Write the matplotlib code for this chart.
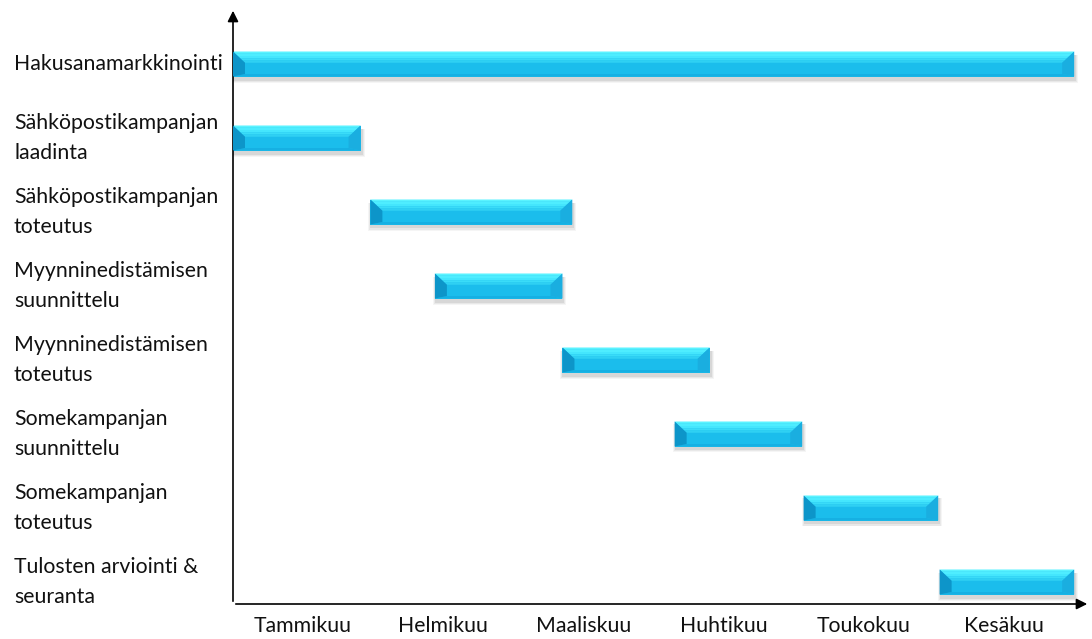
import numpy as np
import matplotlib
matplotlib.use("Agg")
import matplotlib.pyplot as plt
from matplotlib.patches import Polygon, Rectangle
from matplotlib.transforms import blended_transform_factory

# Data
tasks = [
    "Hakusanamarkkinointi",
    "Sähköpostikampanjan\nlaadinta",
    "Sähköpostikampanjan\ntoteutus",
    "Myynninedistämisen\nsuunnittelu",
    "Myynninedistämisen\ntoteutus",
    "Somekampanjan\nsuunnittelu",
    "Somekampanjan\ntoteutus",
    "Tulosten arviointi &\nseuranta",
]
start = [0.0, 0.0, 0.98, 1.44, 2.35, 3.15, 4.07, 5.04]   # months from start of January
end = [6.0, 0.91, 2.42, 2.35, 3.40, 4.06, 5.03, 6.0]
months = ["Tammikuu", "Helmikuu", "Maaliskuu", "Huhtikuu", "Toukokuu", "Kesäkuu"]

# Layout (pixels of a 1092x639 figure)
W, H = 1092, 639
ax_l, ax_r, ax_b, ax_t = 233, 1090, 604, 8
px_per_month = 140.2
row_step = 74.0
first_row_px = 64
bar_h_px = 25
bevel_px = 12

plt.rcParams['font.family'] = ['Lato', 'DejaVu Sans']

fig = plt.figure(figsize=(W / 100, H / 100), dpi=100)
ax = fig.add_axes([ax_l / W, 1 - ax_b / H, (ax_r - ax_l) / W, (ax_b - ax_t) / H])

ax.set_xlim(0, (ax_r - ax_l) / px_per_month)
ax.set_ylim((ax_b - first_row_px) / row_step, -(first_row_px - ax_t) / row_step)

bh = bar_h_px / row_step
dx = bevel_px / px_per_month
ux = 1 / px_per_month   # one pixel in x data units
uy = 1 / row_step       # one pixel in y data units

# top face gradient, light cyan -> mid blue
top_cols = ['#5af3ff', '#4eedff', '#44e6fd', '#3adcf8', '#2fd0f3']

for i, (s, e) in enumerate(zip(start, end)):
    top = i - bh / 2
    bot = i + bh / 2
    mid = top + 0.45 * bh
    low = bot - 0.1 * bh
    # soft shadow below the bar
    for k, a in enumerate([0.04, 0.05, 0.07]):
        g = (3 - k) * ux
        ax.add_patch(Rectangle((s + ux - g, top + 3 * uy), e - s + 2 * g, bh + (3 - k) * uy,
                               facecolor='black', alpha=a, lw=0, zorder=1))
    ax.add_patch(Rectangle((s, top), e - s, bh, facecolor='#1bbdec', lw=0, zorder=2))
    n = len(top_cols)
    for j, c in enumerate(top_cols):
        y0 = top + (mid - top) * j / n
        y1 = top + (mid - top) * (j + 1) / n
        f0 = (y0 - top) / (mid - top)
        f1 = (y1 - top) / (mid - top)
        ax.add_patch(Polygon([(s + dx * f0, y0), (e - dx * f0, y0), (e - dx * f1, y1), (s + dx * f1, y1)],
                             closed=True, facecolor=c, lw=0, zorder=3))
    ax.add_patch(Polygon([(s, bot), (e, bot), (e - dx, low), (s + dx, low)],
                         closed=True, facecolor='#16b0e3', lw=0, zorder=3))
    ax.add_patch(Polygon([(s, top), (s + dx, mid), (s + dx, low), (s, bot)],
                         closed=True, facecolor='#0d95c9', lw=0, zorder=4))
    ax.add_patch(Polygon([(e, top), (e - dx, mid), (e - dx, low), (e, bot)],
                         closed=True, facecolor='#1aaee0', lw=0, zorder=4))

# Task labels on the left
trans = blended_transform_factory(fig.transFigure, ax.transData)
for i, t in enumerate(tasks):
    ax.text(14 / W, i, t, transform=trans, ha='left', va='center',
            fontsize=15.3, linespacing=1.6, color='#111111')

# Month labels
ax.set_xticks(np.arange(len(months)) + 0.5)
ax.set_xticklabels(months, fontsize=15.3, color='#111111')
ax.tick_params(axis='x', length=0, pad=9)
ax.set_yticks([])

for sp in ax.spines.values():
    sp.set_visible(False)

# Axis arrows
ax.annotate('', xy=(1, 0), xytext=(0, 0), xycoords='axes fraction',
            arrowprops=dict(arrowstyle='-|>', color='black', lw=1.2, mutation_scale=16))
ax.annotate('', xy=(0, 1), xytext=(0, 0), xycoords='axes fraction',
            arrowprops=dict(arrowstyle='-|>', color='black', lw=1.2, mutation_scale=16))

fig.savefig("out.png", dpi=100)
